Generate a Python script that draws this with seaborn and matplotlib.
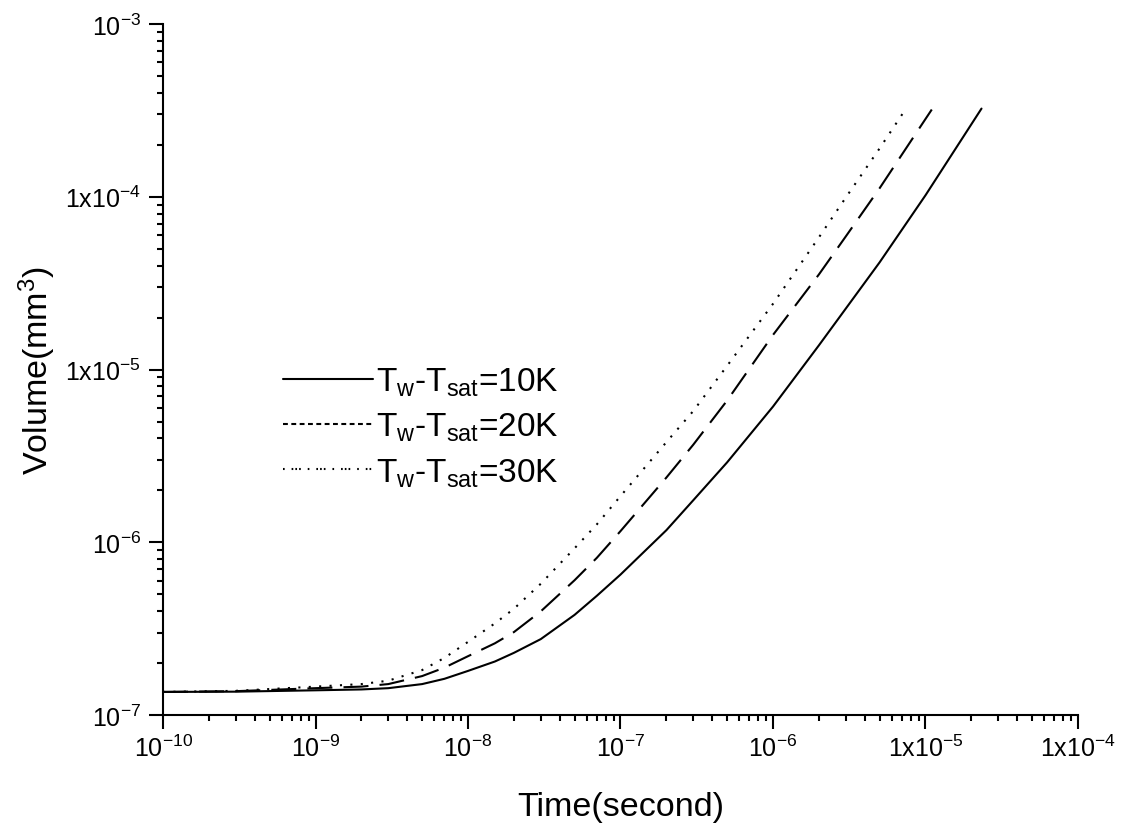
import numpy as np
import pandas as pd
import matplotlib
matplotlib.use("Agg")
import matplotlib.pyplot as plt
from matplotlib.lines import Line2D
from matplotlib.ticker import LogLocator, FuncFormatter, NullFormatter
import seaborn as sns

# Bubble volume growth for three wall superheats
time_10K = [1e-10, 3e-10, 1e-9, 2e-9, 3e-9, 5e-9, 7e-9, 1e-8, 1.5e-8, 2e-8, 3e-8,
            5e-8, 7e-8, 1e-7, 2e-7, 3e-7, 5e-7, 1e-6, 2e-6, 5e-6, 1e-5, 2.33e-5]
vol_10K = [1.36e-7, 1.365e-7, 1.39e-7, 1.406e-7, 1.43e-7, 1.51e-7, 1.62e-7, 1.80e-7,
           2.04e-7, 2.29e-7, 2.75e-7, 3.80e-7, 4.90e-7, 6.50e-7, 1.175e-6, 1.75e-6,
           2.90e-6, 6.10e-6, 1.38e-5, 4.17e-5, 1.02e-4, 3.24e-4]

time_20K = [1e-10, 3e-10, 1e-9, 2e-9, 3e-9, 5e-9, 7e-9, 1e-8, 1.5e-8, 2e-8, 3e-8,
            5e-8, 7e-8, 1e-7, 2e-7, 3e-7, 5e-7, 1e-6, 2e-6, 3e-6, 5e-6, 1e-5, 1.1e-5]
vol_20K = [1.36e-7, 1.374e-7, 1.43e-7, 1.46e-7, 1.51e-7, 1.68e-7, 1.88e-7, 2.19e-7,
           2.60e-7, 3.02e-7, 3.98e-7, 6.03e-7, 8.13e-7, 1.16e-6, 2.37e-6, 3.67e-6,
           6.61e-6, 1.585e-5, 3.55e-5, 5.89e-5, 1.12e-4, 2.82e-4, 3.20e-4]

time_30K = [1e-10, 3e-10, 1e-9, 2e-9, 3e-9, 5e-9, 7e-9, 1e-8, 1.5e-8, 2e-8, 3e-8,
            5e-8, 7e-8, 1e-7, 2e-7, 3e-7, 5e-7, 1e-6, 2e-6, 3e-6, 5e-6, 7.45e-6]
vol_30K = [1.36e-7, 1.38e-7, 1.46e-7, 1.51e-7, 1.58e-7, 1.82e-7, 2.14e-7, 2.65e-7,
           3.39e-7, 4.12e-7, 5.75e-7, 9.23e-7, 1.27e-6, 1.85e-6, 3.80e-6, 5.75e-6,
           1.05e-5, 2.40e-5, 5.82e-5, 9.89e-5, 1.905e-4, 3.24e-4]

series_labels = [r"$T_w$-$T_{sat}$=10K", r"$T_w$-$T_{sat}$=20K", r"$T_w$-$T_{sat}$=30K"]

x_exponents = [-10, -9, -8, -7, -6, -5, -4]
y_exponents = [-7, -6, -5, -4, -3]
long_form = {-5, -4}   # decades written as "1x10^n"

sns.set_theme(style="ticks")
plt.rcParams["font.family"] = ["Liberation Sans", "DejaVu Sans"]
plt.rcParams["mathtext.fontset"] = "custom"
plt.rcParams["mathtext.rm"] = "Liberation Sans"
plt.rcParams["mathtext.it"] = "Liberation Sans"
plt.rcParams["mathtext.default"] = "regular"
plt.rcParams["axes.unicode_minus"] = False
plt.rcParams["lines.scale_dashes"] = False
plt.rcParams["text.color"] = "black"
plt.rcParams["axes.labelcolor"] = "black"

fig = plt.figure(figsize=(11.25, 8.29), dpi=100)
ax = fig.add_axes([0.1449, 0.1363, 0.8133, 0.8335])

styles = [
    dict(linestyle="-"),
    dict(dashes=(18, 8)),
    dict(dashes=(1.5, 6)),
]
for t, v, st in zip([time_10K, time_20K, time_30K], [vol_10K, vol_20K, vol_30K], styles):
    df = pd.DataFrame({"t": t, "v": v})
    sns.lineplot(data=df, x="t", y="v", ax=ax, color="black", linewidth=1.5,
                 sort=False, legend=False, **st)

ax.set_xscale("log")
ax.set_yscale("log")
ax.set_xlim(10.0 ** x_exponents[0], 10.0 ** x_exponents[-1])
ax.set_ylim(10.0 ** y_exponents[0], 10.0 ** y_exponents[-1])


def dec_label(val, pos):
    e = int(round(np.log10(val)))
    if e in long_form:
        return r"$1x10^{%d}$" % e
    return r"$10^{%d}$" % e


ax.xaxis.set_major_locator(LogLocator(base=10, numticks=20))
ax.yaxis.set_major_locator(LogLocator(base=10, numticks=20))
ax.xaxis.set_minor_locator(LogLocator(base=10, subs=np.arange(2, 10), numticks=20))
ax.yaxis.set_minor_locator(LogLocator(base=10, subs=np.arange(2, 10), numticks=20))
ax.xaxis.set_major_formatter(FuncFormatter(dec_label))
ax.yaxis.set_major_formatter(FuncFormatter(dec_label))
ax.xaxis.set_minor_formatter(NullFormatter())
ax.yaxis.set_minor_formatter(NullFormatter())

for side in ["top", "right"]:
    ax.spines[side].set_visible(False)
for side in ["left", "bottom"]:
    ax.spines[side].set_linewidth(1.5)
    ax.spines[side].set_color("black")

ax.tick_params(which="major", direction="out", length=10, width=1.5,
               labelsize=18, colors="black", labelcolor="black")
ax.tick_params(which="minor", direction="out", length=4.5, width=1.5, colors="black")
ax.tick_params(axis="x", which="major", pad=4)
ax.tick_params(axis="y", which="major", pad=6)

ax.set_xlabel("Time(second)", fontsize=24.5, labelpad=22)
ax.set_ylabel(r"Volume(mm$^3$)", fontsize=24.5, labelpad=5)

handles = [
    Line2D([], [], color="black", linewidth=1.5, linestyle="-"),
    Line2D([], [], color="black", linewidth=1.5, dashes=(3.5, 2.5)),
    Line2D([], [], color="black", linewidth=1.5, dashes=(1.2, 5, 1.2, 1.5, 1.2, 1.5, 1.2, 5)),
]
ax.legend(handles, series_labels, loc="upper left", frameon=False,
          bbox_to_anchor=(283 / 1125, 1 - 367 / 829), bbox_transform=fig.transFigure,
          fontsize=24, handlelength=2.7, handletextpad=0.1, labelspacing=0.38,
          borderpad=0, borderaxespad=0)

fig.savefig("out.png", dpi=100, facecolor="white")
